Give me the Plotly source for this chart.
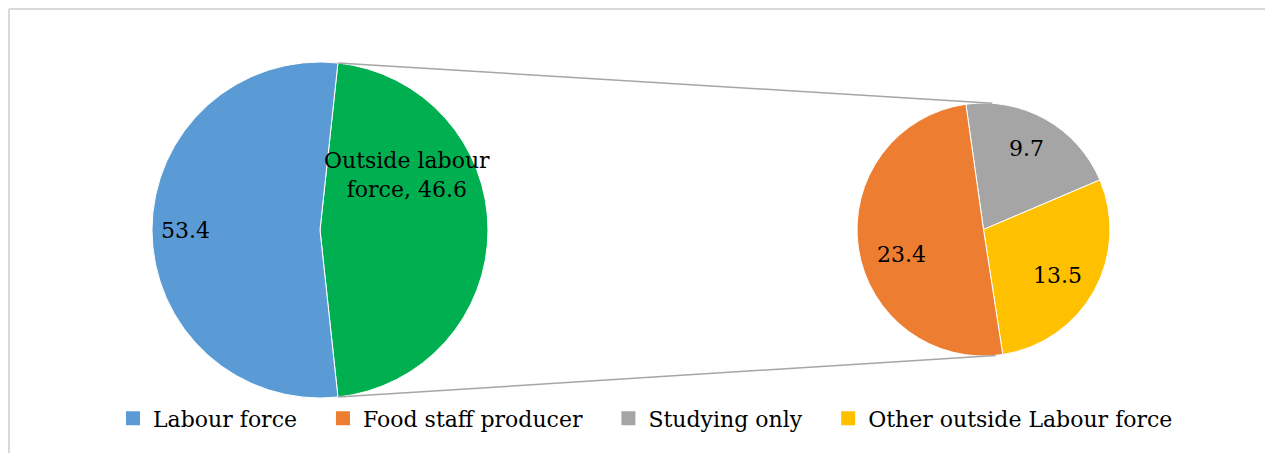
import math

import plotly.graph_objects as go

W, H = 1273, 453
OFF = 8  # page body margin; geometry below is in screen pixels
FONT = 'DejaVu Serif'

# data
main_labels = ['Outside labour force', 'Labour force']
main_values = [46.6, 53.4]
main_colors = ['#00B050', '#5B9BD5']

sub_labels = ['Studying only', 'Other outside Labour force', 'Food staff producer']
sub_values = [9.7, 13.5, 23.4]
sub_colors = ['#A5A5A5', '#FFC000', '#ED7D31']

legend_labels = ['Labour force', 'Food staff producer', 'Studying only', 'Other outside Labour force']
legend_colors = ['#5B9BD5', '#ED7D31', '#A5A5A5', '#FFC000']

# geometry (screen pixels, y down)
MAIN_C, MAIN_R = (320, 230), 168
SUB_C, SUB_R = (983.5, 229.5), 126.5
SUB_ROT = -8
PAD = '\u00a0' * 3


def px(x):
    return (x - OFF) / W


def py(y):
    return 1 - (y - OFF) / H


def domain(c, r):
    cx, cy = c
    return dict(x=[px(cx - r), px(cx + r)], y=[py(cy + r), py(cy - r)])


def pt(c, r, ang):
    a = math.radians(ang)
    return c[0] + r * math.sin(a), c[1] - r * math.cos(a)


fig = go.Figure()

# legend entries
for i, (lab, col) in enumerate(zip(legend_labels, legend_colors)):
    name = lab + (PAD if i < len(legend_labels) - 1 else '')
    fig.add_trace(go.Scatter(
        x=[None], y=[None], mode='markers', name=name,
        marker=dict(symbol='square', size=14, color=col),
    ))

main_span = 360 * main_values[0] / sum(main_values)
main_rot = 90 - main_span / 2

fig.add_trace(go.Pie(
    labels=main_labels, values=main_values, sort=False, direction='clockwise',
    rotation=main_rot, marker=dict(colors=main_colors, line=dict(color='white', width=1)),
    textinfo='none', showlegend=False, domain=domain(MAIN_C, MAIN_R),
))
fig.add_trace(go.Pie(
    labels=sub_labels, values=sub_values, sort=False, direction='clockwise',
    rotation=SUB_ROT, marker=dict(colors=sub_colors, line=dict(color='white', width=1)),
    textinfo='none', showlegend=False, domain=domain(SUB_C, SUB_R),
))

# connector lines between pies
shapes = []
for a_main, a_sub in [(main_rot, 4), (main_rot + main_span, 174.5)]:
    x0, y0 = pt(MAIN_C, MAIN_R, a_main)
    x1, y1 = pt(SUB_C, SUB_R, a_sub)
    shapes.append(dict(type='line', xref='paper', yref='paper',
                       x0=px(x0), y0=py(y0), x1=px(x1), y1=py(y1),
                       line=dict(color='#A6A6A6', width=1.5)))

# chart border (top and left edges visible)
bx, by = px(OFF + 1), py(OFF + 1)
shapes.append(dict(type='line', xref='paper', yref='paper', x0=bx, y0=by, x1=1, y1=by,
                   line=dict(color='#D9D9D9', width=2)))
shapes.append(dict(type='line', xref='paper', yref='paper', x0=bx, y0=by, x1=bx, y1=0,
                   line=dict(color='#D9D9D9', width=2)))

# data labels (offsets in radius units, screen y down)
label_specs = [
    (MAIN_C, MAIN_R, (0.52, -0.33), f'Outside labour<br>force, {main_values[0]}'),
    (MAIN_C, MAIN_R, (-0.80, 0.0), f'{main_values[1]}'),
    (SUB_C, SUB_R, (0.34, -0.64), f'{sub_values[0]}'),
    (SUB_C, SUB_R, (0.585, 0.36), f'{sub_values[1]}'),
    (SUB_C, SUB_R, (-0.65, 0.20), f'{sub_values[2]}'),
]
annotations = []
for c, r, (dx, dy), txt in label_specs:
    annotations.append(dict(x=px(c[0] + dx * r), y=py(c[1] + dy * r), xref='paper', yref='paper',
                            text=txt, showarrow=False, xanchor='center', yanchor='middle',
                            font=dict(family=FONT, size=22, color='#000000')))

fig.update_layout(
    width=W, height=H,
    margin=dict(l=0, r=0, t=0, b=0),
    paper_bgcolor='white', plot_bgcolor='white',
    font=dict(family=FONT, size=22, color='#000000'),
    xaxis=dict(visible=False), yaxis=dict(visible=False),
    shapes=shapes, annotations=annotations,
    legend=dict(orientation='h', x=px(645.5), xanchor='center', y=py(418.5), yanchor='middle',
                itemsizing='trace', bgcolor='rgba(0,0,0,0)', font=dict(family=FONT, size=22)),
    hovermode=False,
)

fig.write_html('out.html')
